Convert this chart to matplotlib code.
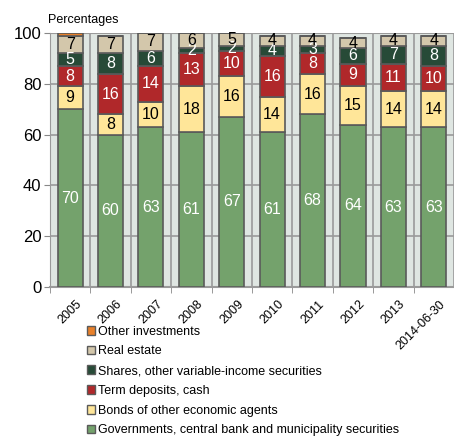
import matplotlib
matplotlib.use("Agg")
import matplotlib.pyplot as plt
from matplotlib.patches import Patch
import numpy as np

plt.rcParams['font.family'] = ['Liberation Sans Narrow', 'Liberation Sans', 'DejaVu Sans']

years = ["2005", "2006", "2007", "2008", "2009", "2010", "2011", "2012", "2013", "2014-06-30"]
government = [70, 60, 63, 61, 67, 61, 68, 64, 63, 63]
bonds = [9, 8, 10, 18, 16, 14, 16, 15, 14, 14]
term_deposits = [8, 16, 14, 13, 10, 16, 8, 9, 11, 10]
shares = [5, 8, 6, 2, 2, 4, 3, 6, 7, 8]
real_estate = [7, 7, 7, 6, 5, 4, 4, 4, 4, 4]
other = [1, 0, 0, 0, 0, 0, 0, 0, 0, 0]

series = [
    ("Governments, central bank and municipality securities", government, "#74a26c", "white"),
    ("Bonds of other economic agents", bonds, "#ffe699", "black"),
    ("Term deposits, cash", term_deposits, "#b0282a", "white"),
    ("Shares, other variable-income securities", shares, "#274a37", "white"),
    ("Real estate", real_estate, "#d3c7ab", "black"),
    ("Other investments", other, "#e8802a", None),
]

fig = plt.figure(figsize=(4.54, 4.41), dpi=100)
ax = fig.add_axes([0.110, 0.349, 0.890, 0.576])
ax.set_facecolor("#dfe6e2")

x = np.arange(len(years))
bottom = np.zeros(len(years))
for name, vals, color, tcolor in series:
    vals = np.array(vals, dtype=float)
    ax.bar(x, vals, width=0.62, bottom=bottom, color=color,
           edgecolor="#5a5a5a", linewidth=1.2, zorder=3)
    if tcolor is not None:
        for xi, b, v in zip(x, bottom, vals):
            if v > 0:
                ax.text(xi, b + v / 2, f"{int(v)}", ha="center", va="center",
                        color=tcolor, fontsize=11.5, zorder=4)
    bottom += vals

ax.set_xlim(-0.5, len(years) - 0.5)
ax.set_ylim(0, 100)
ax.set_yticks(range(0, 101, 20))
ax.tick_params(axis="y", labelsize=12, length=4, color="#888888", pad=2)
ax.yaxis.grid(True, color="#9a9a9a", linewidth=1.2, zorder=1)

# category boundaries: vertical lines and tick marks
ax.set_xticks(np.arange(-0.5, len(years), 1.0), minor=True)
ax.set_xticks(x)
ax.set_xticklabels([])
ax.tick_params(axis="x", which="major", length=0)
ax.tick_params(axis="x", which="minor", length=4, color="#888888")
ax.xaxis.grid(True, which="minor", color="#9a9a9a", linewidth=1.2, zorder=1)

for xi, lab in zip(x, years):
    ax.annotate(lab, xy=(xi, 0), xycoords=("data", "axes fraction"),
                xytext=(4, -8), textcoords="offset points",
                rotation=45, ha="right", va="top", rotation_mode="anchor",
                fontsize=9)

for s in ["right", "top"]:
    ax.spines[s].set_visible(False)
ax.spines["left"].set_color("#9a9a9a")
ax.spines["bottom"].set_color("#9a9a9a")
ax.spines["bottom"].set_linewidth(1.5)
ax.axhline(100, color="#9a9a9a", linewidth=1.5, zorder=2)

fig.text(0.106, 0.955, "Percentages", fontsize=9, ha="left", va="center")

handles = [Patch(facecolor=c, edgecolor="#5a5a5a", label=n) for n, _, c, _ in series[::-1]]
fig.legend(handles=handles, loc="upper left", bbox_to_anchor=(0.18, 0.273),
           frameon=False, fontsize=9, handlelength=0.7, handleheight=0.7,
           handletextpad=0.2, labelspacing=0.62, borderaxespad=0)

fig.savefig("out.png", dpi=100)
